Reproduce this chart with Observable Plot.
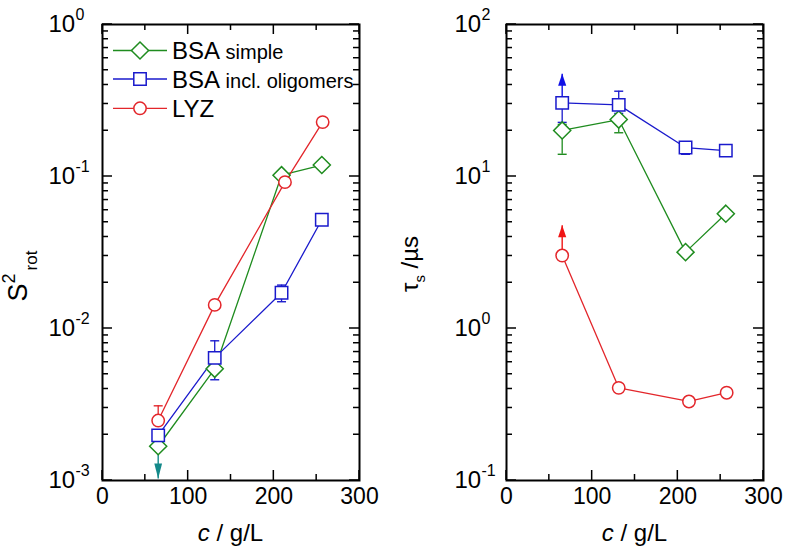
<!DOCTYPE html>
<html><head><meta charset="utf-8">
<script src="https://cdn.jsdelivr.net/npm/d3@7"></script>
<script src="https://cdn.jsdelivr.net/npm/@observablehq/plot@0.6"></script>
<style>
body{margin:0;background:#fff;}
#wrap{position:relative;width:786px;height:557px;font-family:"Liberation Sans",Arial,sans-serif;background:#fff;}
#wrap svg{position:absolute;top:0;overflow:visible;}
</style></head><body><div id="wrap"></div>
<script>
// ---------- data ----------
const seriesNames = ["BSA simple", "BSA incl. oligomers", "LYZ"];
const legendMain = ["BSA", "BSA", "LYZ"];
const legendSub = ["simple", "incl. oligomers", ""];
const seriesColors = ["#1f8c1f", "#1a1acc", "#e3262b"];

const bsaConc = [65, 131, 209, 256];
const lyzConc = [65, 131, 213, 257];

// left panel: S^2_rot
const s2BsaSimple = [0.00168, 0.00543, 0.102, 0.119];
const s2BsaOligo  = [0.00198, 0.00641, 0.0172, 0.0519];
const s2Lyz       = [0.00248, 0.0143, 0.0918, 0.228];
// error bars [index, low, high]
const s2ErrBsaSimple = [];
const s2ErrBsaOligo  = [[1, 0.0046, 0.0083], [2, 0.0150, 0.0193]];
const s2ErrLyz       = [[0, 0.00248, 0.0031]];
// limit arrows [index, tip value, color]
const s2LimBsaSimple = [[0, 0.00103, "#14898a"]];

// right panel: tau_s (µs)
const tauBsaSimple = [20.1, 23.7, 3.18, 5.69];
const tauBsaOligo  = [30.5, 29.6, 15.5, 14.8];
const tauLyz       = [3.02, 0.407, 0.331, 0.378];
const tauErrBsaSimple = [[0, 14.0, 22.0], [1, 19.4, 28.0]];
const tauErrBsaOligo  = [[0, 22.7, 30.5], [1, 26.0, 36.4], [2, 14.0, 16.8]];
const tauErrLyz       = [];
const tauLimBsaOligo  = [[0, 47.4, "#1010e6"]];
const tauLimLyz       = [[0, 4.77, "#f01515"]];

const xTickValues = [0, 100, 200, 300];
const xMinorTickValues = [50, 150, 250];
const s2Decades = [-3, -2, -1, 0];
const tauDecades = [-1, 0, 1, 2];

// ---------- helpers ----------
const W = 393, H = 557, MT = 24, MB = 77;
const FONT = '"Liberation Sans", Arial, sans-serif';
const capSym = {draw(ctx, size) { const l = Math.sqrt(size / Math.PI); ctx.moveTo(-l, 0); ctx.lineTo(l, 0); }};
const headUp = {draw(ctx, size) { const l = Math.sqrt(size / Math.PI); ctx.moveTo(0, 0); ctx.lineTo(-0.34 * l, l); ctx.lineTo(0.34 * l, l); ctx.closePath(); }};
const headDown = {draw(ctx, size) { const l = Math.sqrt(size / Math.PI); ctx.moveTo(0, 0); ctx.lineTo(-0.26 * l, -l); ctx.lineTo(0.26 * l, -l); ctx.closePath(); }};
const symbols = ["diamond2", "square2", "circle"];
const symR = [7.7, 7.9, 6.2];

function minorLog(decades) {
  const out = [];
  for (let i = 0; i < decades.length - 1; i++) for (let k = 2; k <= 9; k++) out.push(k * Math.pow(10, decades[i]));
  return out;
}

function makePanel({concs, values, errs, lims, decades, marginLeft, marginRight, labelDx}) {
  const marks = [];
  const majors = decades.map(d => Math.pow(10, d));
  const yMin = majors[0], yMax = majors[majors.length - 1];
  const xMin = 0, xMax = 300;

  marks.push(Plot.text(decades, {y: d => Math.pow(10, d), frameAnchor: "left", text: () => "10", textAnchor: "start", dx: labelDx, fontSize: 24, fill: "black"}));
  marks.push(Plot.text(decades, {y: d => Math.pow(10, d), frameAnchor: "left", text: d => String(d), textAnchor: "start", dx: labelDx + 27, dy: -10, fontSize: 16, fill: "black"}));
  marks.push(Plot.text(xTickValues, {x: d => d, frameAnchor: "bottom", text: d => String(d), dy: 23, fontSize: 23, fill: "black"}));

  const rows = values.map((vals, s) => vals.map((v, i) => ({c: concs[s][i], v})));
  rows.forEach((r, s) => marks.push(Plot.line(r, {x: "c", y: "v", stroke: seriesColors[s], strokeWidth: 1.3})));
  errs.forEach((e, s) => {
    const data = e.map(([i, lo, hi]) => ({c: concs[s][i], lo, hi, v: values[s][i]}));
    marks.push(Plot.ruleX(data, {x: "c", y1: "lo", y2: "hi", stroke: seriesColors[s], strokeWidth: 1.3}));
    const caps = [];
    data.forEach(d => { if (d.lo < d.v) caps.push({c: d.c, y: d.lo}); if (d.hi > d.v) caps.push({c: d.c, y: d.hi}); });
    marks.push(Plot.dot(caps, {x: "c", y: "y", symbol: capSym, r: 4.5, stroke: seriesColors[s], fill: "none", strokeWidth: 1.4}));
  });
  lims.forEach((l, s) => {
    if (!l) return;
    l.forEach(([i, tip, col]) => {
      const d = [{c: concs[s][i], v: values[s][i], tip}];
      const up = tip > values[s][i];
      marks.push(Plot.link(d, {x1: "c", x2: "c", y1: "v", y2: "tip", stroke: col, strokeWidth: 1.4}));
      marks.push(Plot.dot(d, {x: "c", y: "tip", symbol: up ? headUp : headDown, r: up ? 12 : 15, fill: col, stroke: "none"}));
    });
  });
  rows.forEach((r, s) => marks.push(Plot.dot(r, {x: "c", y: "v", symbol: symbols[s], r: symR[s], stroke: seriesColors[s], fill: "white", strokeWidth: 1.5})));
  marks.push(Plot.frame({stroke: "black", strokeWidth: 2}));

  const svg = Plot.plot({
    width: W, height: H,
    marginLeft, marginRight, marginTop: MT, marginBottom: MB,
    x: {domain: [xMin, xMax], axis: null},
    y: {type: "log", domain: [yMin, yMax], axis: null},
    style: {fontFamily: FONT, background: "transparent", overflow: "visible"},
    marks
  });

  // inward, mirrored ticks positioned through the plot's own scales
  const xs = svg.scale("x"), ys = svg.scale("y");
  const L = xs.apply(xMin), R = xs.apply(xMax), B = ys.apply(yMin), T = ys.apply(yMax);
  const g = d3.select(svg).append("g").attr("stroke", "black").attr("stroke-width", 1.5).attr("fill", "none");
  const seg = (x1, y1, x2, y2) => g.append("line").attr("x1", x1).attr("y1", y1).attr("x2", x2).attr("y2", y2);
  const xt = (vals, len) => vals.forEach(v => { const x = xs.apply(v); seg(x, B, x, B - len); seg(x, T, x, T + len); });
  const yt = (vals, len) => vals.forEach(v => { const y = ys.apply(v); seg(L, y, L + len, y); seg(R, y, R - len, y); });
  xt(xTickValues, 10); xt(xMinorTickValues, 6); yt(majors, 10); yt(minorLog(decades), 6);
  return svg;
}

const wrap = document.getElementById("wrap");

const LML = 102, LMR = 34;
const left = makePanel({
  concs: [bsaConc, bsaConc, lyzConc],
  values: [s2BsaSimple, s2BsaOligo, s2Lyz],
  errs: [s2ErrBsaSimple, s2ErrBsaOligo, s2ErrLyz],
  lims: [s2LimBsaSimple, null, null],
  decades: s2Decades, marginLeft: LML, marginRight: LMR, labelDx: -54
});
left.style.left = "0px";
wrap.appendChild(left);

const RML = 113, RMR = 23;
const right = makePanel({
  concs: [bsaConc, bsaConc, lyzConc],
  values: [tauBsaSimple, tauBsaOligo, tauLyz],
  errs: [tauErrBsaSimple, tauErrBsaOligo, tauErrLyz],
  lims: [null, tauLimBsaOligo, tauLimLyz],
  decades: tauDecades, marginLeft: RML, marginRight: RMR, labelDx: -52
});
right.style.left = W + "px";
wrap.appendChild(right);

function xTitle(svg, ml, mr) {
  const t = d3.select(svg).append("text")
    .attr("x", ml + (W - ml - mr) / 2).attr("y", 541)
    .attr("text-anchor", "middle").attr("font-size", 24).attr("font-family", FONT).attr("fill", "black");
  t.append("tspan").attr("font-style", "italic").text("c");
  t.append("tspan").text(" / g/L");
}
xTitle(left, LML, LMR);
xTitle(right, RML, RMR);

{
  const t = d3.select(left).append("text")
    .attr("transform", "translate(27,276) rotate(-90)")
    .attr("text-anchor", "middle").attr("font-size", 27).attr("font-family", FONT).attr("fill", "black");
  t.append("tspan").text("S");
  t.append("tspan").attr("font-size", 18).attr("dy", -12).text("2");
  t.append("tspan").attr("font-size", 17).attr("dy", 22).attr("dx", 3).text("rot");
}
{
  const t = d3.select(right).append("text")
    .attr("transform", "translate(25,264) rotate(-90)")
    .attr("text-anchor", "middle").attr("font-size", 24).attr("font-family", FONT).attr("fill", "black");
  t.append("tspan").text("τ");
  t.append("tspan").attr("font-size", 15).attr("dy", 7).text("s");
  t.append("tspan").attr("dy", -7).text(" /µs");
}

{
  const g = d3.select(left).append("g").attr("font-family", FONT).attr("text-anchor", "start");
  const rowsY = [50.5, 79, 108.3];
  const d3syms = [d3.symbolDiamond2, d3.symbolSquare2, d3.symbolCircle];
  seriesNames.forEach((name, i) => {
    const y = rowsY[i];
    g.append("line").attr("x1", 113).attr("x2", 167).attr("y1", y).attr("y2", y)
      .attr("stroke", seriesColors[i]).attr("stroke-width", 1.3);
    g.append("path").attr("transform", `translate(140,${y})`)
      .attr("d", d3.symbol(d3syms[i], Math.PI * symR[i] * symR[i])())
      .attr("fill", "white").attr("stroke", seriesColors[i]).attr("stroke-width", 1.5);
    const t = g.append("text").attr("x", 172).attr("y", y + 8.5).attr("font-size", 24)
      .attr("text-anchor", "start").attr("fill", "black");
    t.append("tspan").text(legendMain[i]);
    if (legendSub[i]) t.append("tspan").attr("font-size", 20).text(" " + legendSub[i]);
  });
}
</script>
</body></html>
